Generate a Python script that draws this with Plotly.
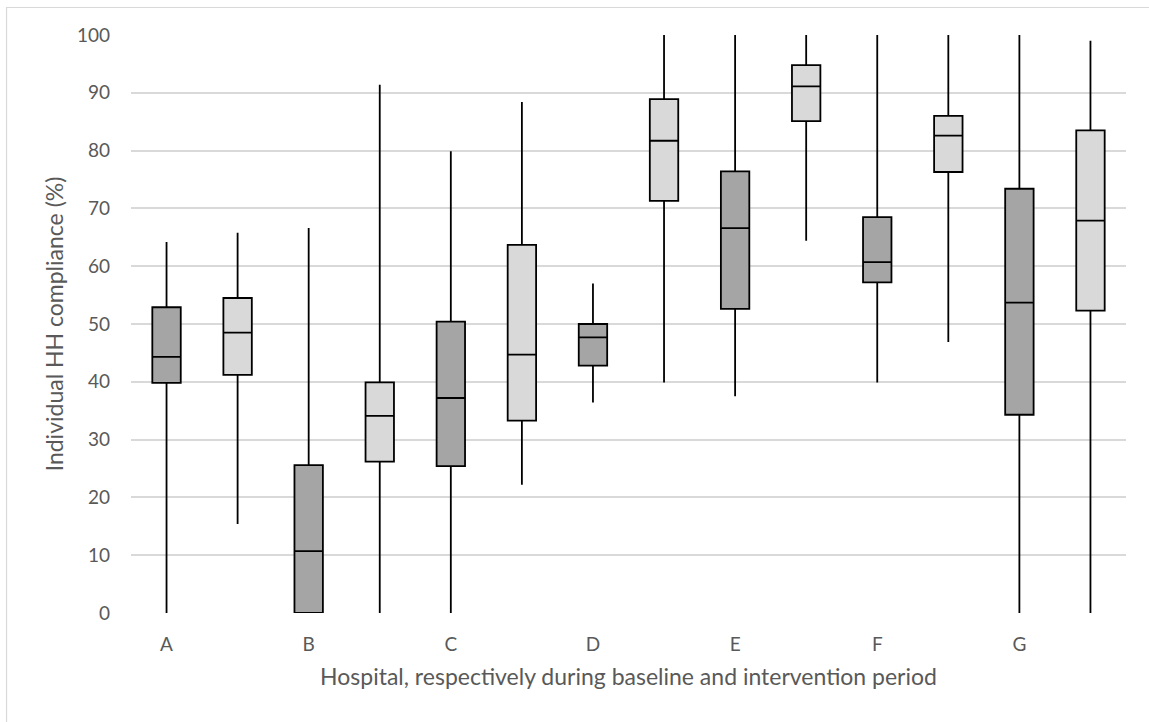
import plotly.graph_objects as go

# Hospitals, each shown for the baseline and then the intervention period
hospitals = ["A", "B", "C", "D", "E", "F", "G"]
periods = ["Baseline", "Intervention"]

# Box statistics per hospital, in order [baseline, intervention]
whisker_low = {
    "A": [0.0, 15.4], "B": [0.0, 0.0], "C": [0.0, 22.2], "D": [36.4, 39.9],
    "E": [37.5, 64.4], "F": [39.9, 46.9], "G": [0.0, 0.0],
}
q1 = {
    "A": [39.8, 41.2], "B": [0.0, 26.2], "C": [25.4, 33.3], "D": [42.8, 71.3],
    "E": [52.6, 85.1], "F": [57.2, 76.3], "G": [34.3, 52.3],
}
median = {
    "A": [44.3, 48.5], "B": [10.7, 34.1], "C": [37.2, 44.7], "D": [47.7, 81.7],
    "E": [66.6, 91.1], "F": [60.7, 82.6], "G": [53.7, 67.9],
}
q3 = {
    "A": [52.9, 54.5], "B": [25.6, 39.9], "C": [50.4, 63.7], "D": [50.0, 88.9],
    "E": [76.4, 94.8], "F": [68.5, 86.0], "G": [73.4, 83.5],
}
whisker_high = {
    "A": [64.2, 65.8], "B": [66.6, 91.4], "C": [79.9, 88.4], "D": [57.0, 100.0],
    "E": [100.0, 100.0], "F": [100.0, 100.0], "G": [100.0, 99.0],
}

y_ticks = list(range(0, 101, 10))

period_fill = {"Baseline": "#A5A5A5", "Intervention": "#D9D9D9"}

fig = go.Figure()
for p_idx, period in enumerate(periods):
    xs = [2 * h_idx + p_idx for h_idx in range(len(hospitals))]
    fig.add_trace(go.Box(
        name=period,
        x=xs,
        lowerfence=[whisker_low[h][p_idx] for h in hospitals],
        q1=[q1[h][p_idx] for h in hospitals],
        median=[median[h][p_idx] for h in hospitals],
        q3=[q3[h][p_idx] for h in hospitals],
        upperfence=[whisker_high[h][p_idx] for h in hospitals],
        width=0.4,
        whiskerwidth=0,
        fillcolor=period_fill[period],
        line=dict(color="#000000", width=1.8),
        boxpoints=False,
        hoverinfo="skip",
    ))

font_family = "Lato, 'Open Sans', sans-serif"
text_color = "#595959"

# Thin chart-area frame (top and left edges visible)
fig.add_shape(
    type="rect", xref="paper", yref="paper",
    x0=-0.1251, x1=1.3, y0=-0.4, y1=1.0476,
    line=dict(color="#D9D9D9", width=1.2), fillcolor="rgba(0,0,0,0)",
    layer="below",
)

fig.update_layout(
    width=1149, height=722,
    margin=dict(l=131, r=23, t=35, b=109),
    paper_bgcolor="white", plot_bgcolor="white",
    showlegend=False,
    font=dict(family=font_family, color=text_color),
    xaxis=dict(
        range=[-0.5, 13.5],
        tickmode="array",
        tickvals=[2 * i for i in range(len(hospitals))],
        ticktext=hospitals,
        tickfont=dict(size=19, color=text_color),
        showgrid=False, zeroline=False, showline=False,
        ticks="", ticklen=0, ticklabelstandoff=18,
        title=dict(
            text="Hospital, respectively during baseline and intervention period",
            font=dict(size=23, color=text_color), standoff=14,
        ),
    ),
    yaxis=dict(
        range=[0, 100],
        tickmode="array", tickvals=y_ticks,
        tickfont=dict(size=19, color=text_color),
        showgrid=True, gridcolor="#D9D9D9", gridwidth=1.5,
        zeroline=False, showline=False,
        ticks="", ticklabelstandoff=20,
        title=dict(text="Individual HH compliance (%)",
                   font=dict(size=23, color=text_color), standoff=6),
    ),
)

fig.write_html("out.html")
